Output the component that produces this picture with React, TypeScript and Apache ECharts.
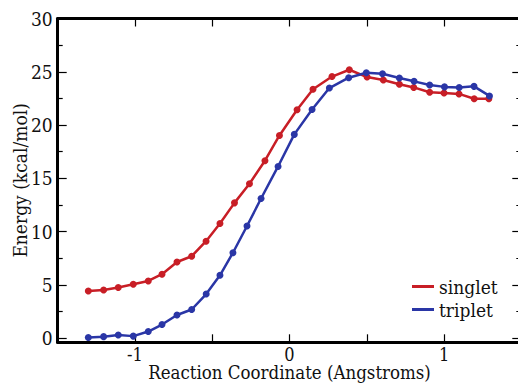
import React, { useEffect, useRef } from "react";
import * as echarts from "echarts";

const singletX = [-1.302, -1.203, -1.108, -1.011, -0.914, -0.825, -0.728, -0.633, -0.54, -0.45, -0.356, -0.259, -0.159, -0.065, 0.049, 0.152, 0.275, 0.387, 0.502, 0.607, 0.711, 0.804, 0.907, 1.0, 1.097, 1.195, 1.29];
const singletY = [4.42, 4.51, 4.74, 5.05, 5.36, 5.99, 7.14, 7.68, 9.09, 10.75, 12.69, 14.49, 16.65, 19.02, 21.43, 23.36, 24.55, 25.19, 24.5, 24.22, 23.83, 23.53, 23.07, 23.0, 22.92, 22.46, 22.46];
const tripletX = [-1.302, -1.203, -1.108, -1.011, -0.914, -0.825, -0.728, -0.633, -0.539, -0.45, -0.366, -0.275, -0.184, -0.074, 0.031, 0.146, 0.258, 0.383, 0.497, 0.602, 0.711, 0.806, 0.907, 1.003, 1.098, 1.194, 1.294];
const tripletY = [0.05, 0.13, 0.28, 0.18, 0.61, 1.27, 2.16, 2.68, 4.13, 5.89, 8.01, 10.52, 13.1, 16.11, 19.12, 21.45, 23.47, 24.44, 24.91, 24.81, 24.41, 24.1, 23.75, 23.58, 23.52, 23.63, 22.73];
const seriesNames = ["singlet", "triplet"];
const xTickLabels = ["-1", "0", "1"];
const yTickLabels = ["0", "5", "10", "15", "20", "25", "30"];

const FONT = "'DejaVu Serif Condensed', 'DejaVu Serif', serif";
const RED = "#c81e26";
const BLUE = "#2a36a6";

function pair(xs: number[], ys: number[]) {
  return xs.map((x, i) => [x, ys[i]]);
}

export default function App() {
  const ref = useRef<HTMLDivElement>(null);
  useEffect(() => {
    if (!ref.current) return;
    const chart = echarts.init(ref.current, undefined, { renderer: "svg" });
    const axisLine = { show: true, onZero: false, lineStyle: { color: "#000", width: 3 } };
    const xFmt = (v: number) => {
      const s = String(Math.round(v * 100) / 100);
      return xTickLabels.includes(s) ? s : "";
    };
    const yFmt = (v: number) => {
      const s = String(Math.round(v * 100) / 100);
      return yTickLabels.includes(s) ? s : "";
    };
    chart.setOption({
      animation: false,
      backgroundColor: "#fff",
      textStyle: { fontFamily: FONT },
      grid: {
        left: 57.7,
        top: 18.5,
        width: 463.6,
        height: 323.8,
        containLabel: false,
        outerBoundsMode: "none",
      },
      legend: {
        left: 412,
        top: 277,
        orient: "vertical",
        padding: 0,
        itemGap: 4,
        itemWidth: 22,
        itemHeight: 3,
        icon: "rect",
        textStyle: { fontFamily: FONT, fontSize: 19, color: "#111" },
        data: seriesNames,
      },
      xAxis: [
        {
          type: "value",
          position: "bottom",
          min: -1.5,
          max: 1.5,
          interval: 0.5,
          axisLine,
          axisTick: { show: true, inside: true, length: 8, lineStyle: { color: "#000", width: 1.2 } },
          axisLabel: { formatter: xFmt, fontFamily: FONT, fontSize: 18, lineHeight: 16, color: "#111", margin: 4 },
          splitLine: { show: false },
          name: "Reaction Coordinate (Angstroms)",
          nameLocation: "middle",
          nameGap: 22,
          nameMoveOverlap: false,
          nameTextStyle: { fontFamily: FONT, fontSize: 18.5, lineHeight: 17, color: "#111" },
        },
        {
          type: "value",
          position: "top",
          min: -1.5,
          max: 1.5,
          interval: 0.5,
          axisLine,
          axisTick: { show: true, inside: true, length: 8, lineStyle: { color: "#000", width: 1.2 } },
          axisLabel: { show: false },
          splitLine: { show: false },
        },
      ],
      yAxis: [
        {
          type: "value",
          position: "left",
          min: -0.4,
          max: 30,
          splitNumber: 6,
          axisLine,
          axisTick: { show: true, inside: true, length: 9, lineStyle: { color: "#000", width: 1.2 } },
          minorTick: { show: true, splitNumber: 2, length: 5, lineStyle: { color: "#000", width: 1.2 } },
          axisLabel: { formatter: yFmt, fontFamily: FONT, fontSize: 19, color: "#111", margin: 5 },
          splitLine: { show: false },
          minorSplitLine: { show: false },
          name: "Energy (kcal/mol)",
          nameLocation: "middle",
          nameGap: 28,
          nameMoveOverlap: false,
          nameTextStyle: { fontFamily: FONT, fontSize: 19, color: "#111" },
        },
        {
          type: "value",
          position: "right",
          min: -0.4,
          max: 30,
          splitNumber: 6,
          axisLine,
          axisTick: { show: true, inside: true, length: 9, lineStyle: { color: "#000", width: 1.2 } },
          minorTick: { show: true, splitNumber: 2, length: 5, lineStyle: { color: "#000", width: 1.2 } },
          axisLabel: { show: false },
          splitLine: { show: false },
          minorSplitLine: { show: false },
        },
      ],
      series: [
        {
          name: seriesNames[0],
          type: "line",
          data: pair(singletX, singletY),
          symbol: "circle",
          symbolSize: 7,
          color: RED,
          lineStyle: { width: 2.5, color: RED },
          itemStyle: { color: RED },
        },
        {
          name: seriesNames[1],
          type: "line",
          data: pair(tripletX, tripletY),
          symbol: "circle",
          symbolSize: 7,
          color: BLUE,
          lineStyle: { width: 2.5, color: BLUE },
          itemStyle: { color: BLUE },
        },
      ],
    });
    return () => chart.dispose();
  }, []);
  return (
    <div
      ref={ref}
      style={{ position: "fixed", left: 0, top: 0, width: 518, height: 385, background: "#fff" }}
    />
  );
}
